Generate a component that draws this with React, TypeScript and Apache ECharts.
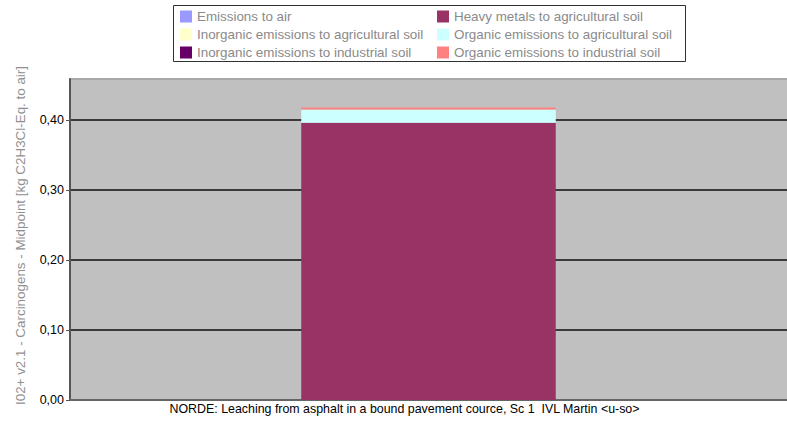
import React, { useEffect, useRef } from "react";
import * as echarts from "echarts";

const categories = ["NORDE: Leaching from asphalt in a bound pavement cource, Sc 1  IVL Martin <u-so>"];
const seriesNames = [
  "Emissions to air",
  "Heavy metals to agricultural soil",
  "Inorganic emissions to agricultural soil",
  "Inorganic emissions to industrial soil",
  "Organic emissions to agricultural soil",
  "Organic emissions to industrial soil",
];
const emissionsToAir = [0];
const heavyMetalsAgri = [0.396];
const inorganicAgri = [0];
const inorganicIndustrial = [0];
const organicAgri = [0.0191];
const organicIndustrial = [0.0029];
const seriesColors = ["#9999FF", "#993366", "#FFFFCC", "#660066", "#CCFFFF", "#FF8080"];
const legendCol1 = [seriesNames[0], seriesNames[2], seriesNames[3]];
const legendCol2 = [seriesNames[1], seriesNames[4], seriesNames[5]];
const yAxisTitle = "I02+ v2.1 - Carcinogens - Midpoint [kg C2H3Cl-Eq. to air]";

const font = "'Liberation Sans', Arial, sans-serif";

export default function App() {
  const ref = useRef<HTMLDivElement>(null);
  useEffect(() => {
    if (!ref.current) return;
    const chart = echarts.init(ref.current, null, { renderer: "svg" });
    const values = [emissionsToAir, heavyMetalsAgri, inorganicAgri, inorganicIndustrial, organicAgri, organicIndustrial];
    const legendCommon = {
      orient: "vertical" as const,
      top: 10,
      itemWidth: 12,
      itemHeight: 12,
      itemGap: 5,
      icon: "rect",
      padding: 0,
      selectedMode: false,
      textStyle: { fontFamily: font, fontSize: 13.4, color: "#8a8a8a", lineHeight: 12 },
    };
    chart.setOption({
      animation: false,
      backgroundColor: "#ffffff",
      textStyle: { fontFamily: font },
      graphic: [
        {
          type: "rect",
          shape: { x: 173.5, y: 5.5, width: 512, height: 56 },
          style: { fill: "#ffffff", stroke: "#303030", lineWidth: 1 },
          z: 0,
        },
      ],
      legend: [
        { ...legendCommon, left: 180, data: legendCol1 },
        { ...legendCommon, left: 437, data: legendCol2 },
      ],
      grid: { left: 70, top: 79, right: -3, bottom: 26, backgroundColor: "#C0C0C0", show: true, borderWidth: 0 },
      xAxis: {
        type: "category",
        data: categories,
        axisLine: { lineStyle: { color: "#666666", width: 2 } },
        axisTick: { show: false },
        axisLabel: { color: "#000", fontSize: 12.4, fontFamily: font, margin: 3, padding: [0, 48, 0, 0] },
      },
      yAxis: {
        type: "value",
        min: 0,
        max: 0.4586,
        interval: 0.1,
        name: yAxisTitle,
        nameLocation: "middle",
        nameGap: 43,
        nameTextStyle: { color: "#909090", fontSize: 13.4, fontFamily: font, padding: [0, 0, 0, 8] },
        axisLine: { show: true, lineStyle: { color: "#555555", width: 2 } },
        axisTick: { show: true, length: 4, lineStyle: { color: "#555555" } },
        axisLabel: {
          color: "#000",
          fontSize: 12.5,
          fontFamily: font,
          margin: 6,
          showMaxLabel: false,
          formatter: (v: number) => v.toFixed(2).replace(".", ","),
        },
        splitLine: {
          show: true,
          lineStyle: {
            color: ["#3a3a3a", "#3a3a3a", "#3a3a3a", "#3a3a3a", "#3a3a3a", "#a8a8a8"],
            width: 2,
          },
        },
      },
      series: seriesNames.map((name, i) => ({
        name,
        type: "bar",
        stack: "total",
        data: values[i],
        barWidth: "35.5%",
        itemStyle: { color: seriesColors[i] },
      })),
    });
    return () => chart.dispose();
  }, []);
  return <div ref={ref} style={{ position: "fixed", left: 0, top: 0, width: 787, height: 426 }} />;
}
